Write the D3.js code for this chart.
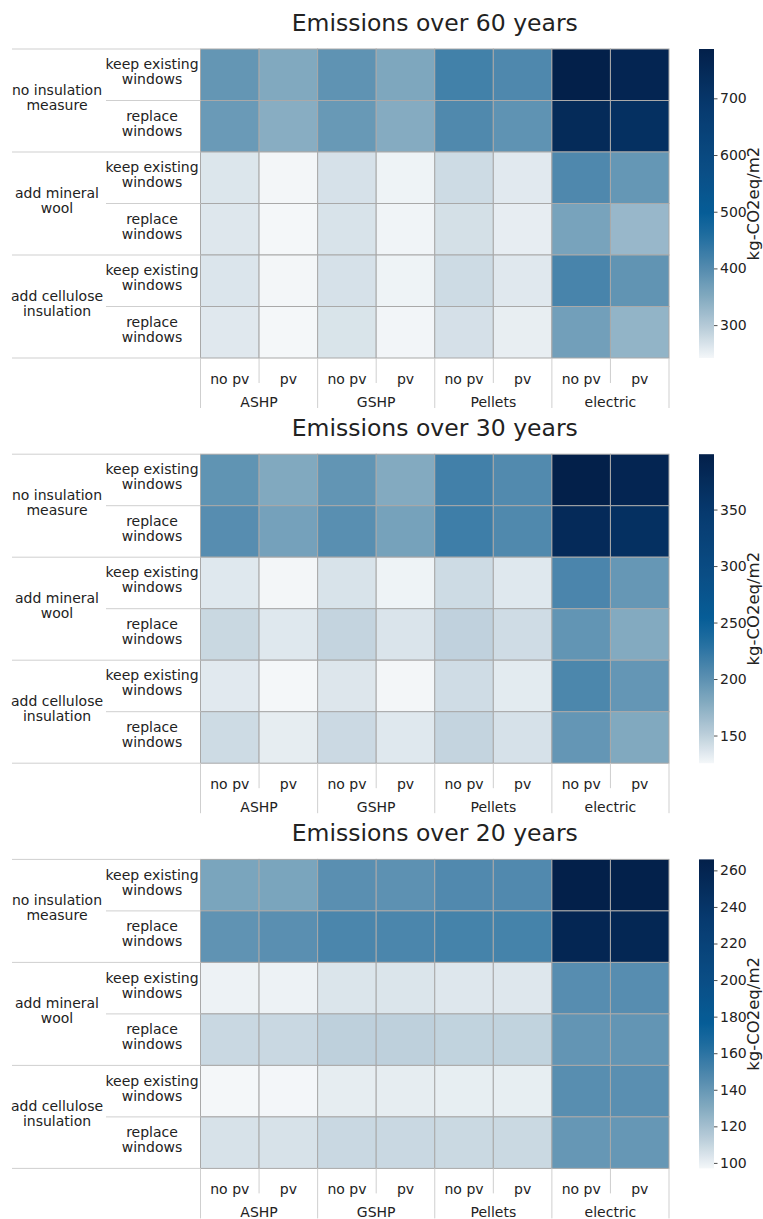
<!DOCTYPE html>
<html>
<head>
<meta charset="utf-8">
<script src="https://cdn.jsdelivr.net/npm/d3@7"></script>
<style>
  html, body { margin: 0; padding: 0; background: #ffffff; }
  svg { display: block; font-family: "DejaVu Sans", sans-serif; }
</style>
</head>
<body>
<svg id="chart" width="763" height="1219"></svg>
<script>
// Row groups (insulation measure) and their sub rows (window option)
const insulation = [["no insulation", "measure"], ["add mineral", "wool"], ["add cellulose", "insulation"]];
const windows = [["keep existing", "windows"], ["replace", "windows"]];
// Column groups (heating system) and their sub columns (photovoltaics)
const heating = ["ASHP", "GSHP", "Pellets", "electric"];
const pvOptions = ["no pv", "pv"];

// Emissions in kg-CO2eq/m2; rows in order insulation x windows,
// columns in order heating x pv
const emissions60 = [
  [383, 351, 388, 354, 420, 405, 787, 765],
  [376, 344, 378, 347, 404, 388, 743, 722],
  [263, 243, 269, 247, 277, 259, 405, 381],
  [262, 242, 267, 246, 271, 254, 361, 328],
  [264, 243, 269, 247, 277, 260, 413, 386],
  [260, 242, 266, 244, 270, 253, 367, 334]
];
const emissions30 = [
  [198, 180, 197, 179, 215, 206, 399, 388],
  [203, 187, 202, 186, 217, 207, 378, 366],
  [135, 126, 138, 128, 143, 135, 210, 195],
  [145, 135, 147, 137, 149, 142, 197, 179],
  [134, 125.5, 136, 126, 142, 133, 209, 196],
  [143, 132, 144, 135, 147, 139, 196, 180]
];
const emissions20 = [
  [133, 133, 144, 143, 147, 147, 266, 265],
  [142, 144, 149, 149, 151, 151, 258, 257],
  [99, 99, 104, 104, 103, 103, 145, 145],
  [109, 109, 112, 112, 111, 111, 141, 141],
  [97, 97.2, 101, 101, 100.5, 100.5, 144.5, 144],
  [105, 105, 109, 109, 108.7, 108.7, 140, 140]
];

const titles = ["Emissions over 60 years", "Emissions over 30 years", "Emissions over 20 years"];
const ticks60 = [300, 400, 500, 600, 700];
const ticks30 = [150, 200, 250, 300, 350];
const ticks20 = [100, 120, 140, 160, 180, 200, 220, 240, 260];
const unitLabel = "kg-CO2eq/m2";

const panels = [
  { title: titles[0], values: emissions60, ticks: ticks60 },
  { title: titles[1], values: emissions30, ticks: ticks30 },
  { title: titles[2], values: emissions20, ticks: ticks20 }
];

// White -> grey-blue -> strong blue -> navy colour ramp
const ramp = d3.scaleLinear()
  .domain([0, 0.1, 0.2, 0.3, 0.4, 0.47, 0.6, 0.8, 1])
  .range(["#f4f7f9", "#b7cbd8", "#81a9bf", "#4f88ad", "#1e6c9f", "#065d97", "#0a4e86", "#073b70", "#03204a"])
  .interpolate(d3.interpolateRgb)
  .clamp(true);

const svg = d3.select("#chart");
const defs = svg.append("defs");
const textColor = "#222";
const gridColor = "#a9a9a9";
const sepColor = "#cfcfcf";

const left = 200.5, width = 468.5, height = 309, panelStep = 405.2, firstTop = 49;
const cbX = 699, cbW = 15;

const rowKeys = d3.range(insulation.length * windows.length);
const colKeys = d3.range(heating.length * pvOptions.length);

panels.forEach((p, i) => {
  const top = firstTop + panelStep * i;
  const bottom = top + height;
  const g = svg.append("g");

  const x = d3.scaleBand().domain(colKeys).range([left, left + width]);
  const y = d3.scaleBand().domain(rowKeys).range([top, bottom]);
  const [vmin, vmax] = d3.extent(p.values.flat());
  const color = v => ramp((v - vmin) / (vmax - vmin));

  // Title centred over the heatmap
  g.append("text")
    .attr("x", left + width / 2)
    .attr("y", top - 18)
    .attr("text-anchor", "middle")
    .attr("font-size", 23.5)
    .attr("fill", textColor)
    .text(p.title);

  // Cells
  const cells = [];
  p.values.forEach((row, r) => row.forEach((v, c) => cells.push({ r, c, v })));
  g.selectAll("rect.cell").data(cells).join("rect")
    .attr("class", "cell")
    .attr("x", d => x(d.c))
    .attr("y", d => y(d.r))
    .attr("width", x.bandwidth())
    .attr("height", y.bandwidth())
    .attr("fill", d => color(d.v))
    .attr("stroke", gridColor)
    .attr("stroke-width", 1);

  // Row labels: window option (inner) and insulation measure (outer)
  const innerX = 152, outerX = 57;
  rowKeys.forEach(r => {
    const cy = y(r) + y.bandwidth() / 2;
    const lines = windows[r % windows.length];
    const t = g.append("text").attr("text-anchor", "middle").attr("font-size", 14).attr("fill", textColor);
    lines.forEach((line, k) => t.append("tspan").attr("x", innerX).attr("y", cy - 5.5 + 15 * k).text(line));
  });
  insulation.forEach((lines, gi) => {
    const y0 = y(gi * windows.length);
    const y1 = y(gi * windows.length + windows.length - 1) + y.bandwidth();
    const cy = (y0 + y1) / 2;
    const t = g.append("text").attr("text-anchor", "middle").attr("font-size", 14).attr("fill", textColor);
    lines.forEach((line, k) => t.append("tspan").attr("x", outerX).attr("y", cy - 5.5 + 15 * k).text(line));
  });

  // Row separators in the label area
  rowKeys.forEach(r => {
    if (r % windows.length === 0) return;
    g.append("line").attr("x1", 106).attr("x2", left).attr("y1", y(r)).attr("y2", y(r))
      .attr("stroke", sepColor).attr("stroke-width", 1);
  });
  d3.range(insulation.length + 1).forEach(gi => {
    const yy = gi < insulation.length ? y(gi * windows.length) : bottom;
    g.append("line").attr("x1", 12).attr("x2", left).attr("y1", yy).attr("y2", yy)
      .attr("stroke", sepColor).attr("stroke-width", 1);
  });

  // Column labels: pv option (inner) and heating system (outer)
  colKeys.forEach(c => {
    g.append("text")
      .attr("x", x(c) + x.bandwidth() / 2)
      .attr("y", bottom + 26)
      .attr("text-anchor", "middle")
      .attr("font-size", 14)
      .attr("fill", textColor)
      .text(pvOptions[c % pvOptions.length]);
    if (c % pvOptions.length !== 0) {
      g.append("line").attr("x1", x(c)).attr("x2", x(c)).attr("y1", bottom).attr("y2", bottom + 25)
        .attr("stroke", sepColor).attr("stroke-width", 1);
    }
  });
  heating.forEach((h, hi) => {
    const x0 = x(hi * pvOptions.length);
    const x1 = x(hi * pvOptions.length + pvOptions.length - 1) + x.bandwidth();
    g.append("text")
      .attr("x", (x0 + x1) / 2)
      .attr("y", bottom + 48.5)
      .attr("text-anchor", "middle")
      .attr("font-size", 14)
      .attr("fill", textColor)
      .text(h);
  });
  d3.range(heating.length + 1).forEach(hi => {
    const xx = hi < heating.length ? x(hi * pvOptions.length) : left + width;
    g.append("line").attr("x1", xx).attr("x2", xx).attr("y1", bottom).attr("y2", bottom + 50)
      .attr("stroke", sepColor).attr("stroke-width", 1);
  });

  // Colour bar as a vertical gradient sampled from the same colour scale
  const cb = d3.scaleLinear().domain([vmin, vmax]).range([bottom, top]);
  const gradId = `cbgrad${i}`;
  const grad = defs.append("linearGradient").attr("id", gradId)
    .attr("x1", 0).attr("y1", 1).attr("x2", 0).attr("y2", 0);
  d3.range(0, 65).forEach(k => {
    const v = vmin + (vmax - vmin) * k / 64;
    grad.append("stop").attr("offset", `${(k / 64) * 100}%`).attr("stop-color", color(v));
  });
  g.append("rect")
    .attr("x", cbX)
    .attr("y", cb(vmax))
    .attr("width", cbW)
    .attr("height", cb(vmin) - cb(vmax))
    .attr("fill", `url(#${gradId})`);

  const axis = d3.axisRight(cb).tickValues(p.ticks).tickSize(3.5).tickPadding(2.5).tickFormat(d3.format("d"));
  const ax = g.append("g").attr("transform", `translate(${cbX + cbW},0)`).call(axis);
  ax.select(".domain").remove();
  ax.selectAll(".tick line").attr("stroke", textColor).attr("stroke-width", 0.8);
  ax.selectAll(".tick text").attr("font-size", 14).attr("fill", textColor).attr("font-family", "DejaVu Sans, sans-serif");

  g.append("text")
    .attr("transform", `translate(${754},${(top + bottom) / 2}) rotate(-90)`)
    .attr("text-anchor", "middle")
    .attr("dominant-baseline", "middle")
    .attr("font-size", 16.5)
    .attr("fill", textColor)
    .text(unitLabel);
});
</script>
</body>
</html>
